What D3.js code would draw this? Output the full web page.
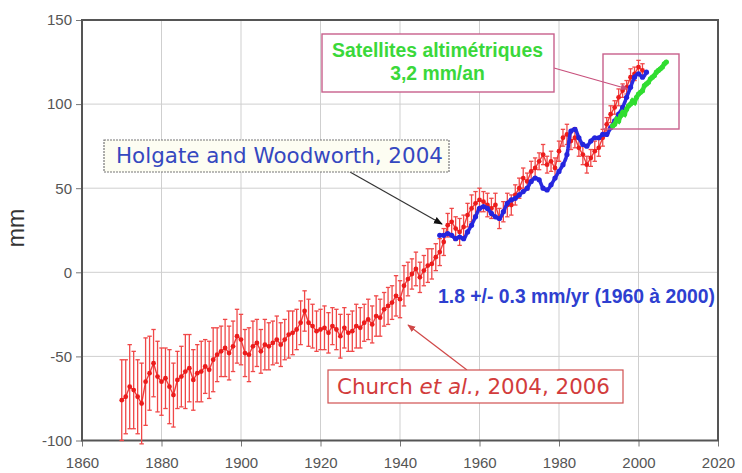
<!DOCTYPE html>
<html>
<head>
<meta charset="utf-8">
<script src="https://cdn.jsdelivr.net/npm/d3@7"></script>
<style>
  html, body { margin: 0; padding: 0; background: #fff; }
  svg { display: block; }
</style>
</head>
<body>
<svg id="chart" width="742" height="473"></svg>
<script>
// Global mean sea level reconstructions (mm)

// Church et al. (2004, 2006): yearly values 1870–2001 and their error half-widths
const churchYears = d3.range(1870, 2002);
const churchValues = [
  -76, -74, -68, -70, -74, -78, -65, -60, -54, -62,
  -65, -63, -68, -73, -64, -62, -59, -57, -64, -60,
  -59, -56, -58, -52, -49, -47, -45, -48, -44, -38,
  -40, -48, -49, -44, -42, -47, -43, -44, -42, -40,
  -43, -40, -37, -36, -34, -30, -23, -30, -32, -35,
  -34, -33, -36, -32, -34, -38, -33, -36, -35, -32,
  -33, -30, -28, -31, -26, -27, -22, -20, -18, -14,
  -16, -8, -4, -1, 2, -3, 1, 4, 5, 9,
  12, 18, 28, 30, 26, 24, 27, 34, 38, 41,
  43, 42, 40, 38, 40, 32, 36, 40, 40, 46,
  50, 56, 54, 60, 62, 66, 70, 64, 66, 62,
  72, 80, 82, 78, 80, 74, 70, 64, 68, 72,
  74, 80, 88, 94, 98, 104, 108, 110, 116, 118,
  122, 120
];
const churchErrors = [
  24, 22, 25, 23, 22, 24, 26, 22, 20, 21,
  20, 18, 22, 19, 17, 18, 22, 20, 18, 17,
  18, 16, 17, 19, 16, 15, 17, 16, 15, 16,
  15, 14, 16, 15, 14, 13, 15, 14, 13, 14,
  13, 12, 14, 13, 12, 13, 12, 14, 13, 12,
  12, 13, 12, 11, 12, 13, 12, 11, 12, 13,
  12, 11, 12, 11, 12, 11, 10, 11, 10, 12,
  11, 12, 10, 9, 10, 9, 9, 10, 9, 8,
  8, 8, 7, 8, 7, 8, 7, 7, 8, 7,
  7, 6, 7, 6, 7, 6, 6, 7, 6, 6,
  6, 6, 5, 6, 6, 5, 6, 5, 6, 6,
  6, 5, 6, 5, 6, 5, 6, 5, 5, 6,
  5, 5, 4, 5, 4, 5, 4, 4, 5, 4,
  4, 4
];

// Holgate and Woodworth (2004): yearly values 1950–2002
const holgateYears = d3.range(1950, 2003);
const holgateValues = [
  22, 22, 23, 22, 20, 21, 20, 24, 28, 33,
  38, 39, 38, 35, 33, 32, 36, 41, 43, 44,
  46, 48, 50, 54, 56, 55, 50, 49, 52, 56,
  60, 64, 70, 84, 85, 80, 76, 75, 78, 80,
  80, 82, 82, 86, 90, 94, 98, 104, 110, 116,
  118, 116, 119
];

// Satellite altimetry, half-yearly
const satYears = d3.range(1993.5, 2007.01, 0.5);
const satValues = [
  87, 88, 91, 90, 93, 95, 94, 97, 99, 100,
  102, 101, 104, 106, 107, 108, 111, 112, 113, 115,
  116, 117, 119, 120, 121, 122, 124, 125
];

// Axis ticks
const xTicks = [1860, 1880, 1900, 1920, 1940, 1960, 1980, 2000, 2020];
const yTicks = [-100, -50, 0, 50, 100, 150];

const church = churchYears.map((yr, i) => ({ yr, v: churchValues[i], e: churchErrors[i] }));
const holgate = holgateYears.map((yr, i) => ({ yr, v: holgateValues[i] }));
const sat = satYears.map((yr, i) => ({ yr, v: satValues[i] }));

const svg = d3.select("#chart");
const plot = { left: 82, right: 718, top: 20, bottom: 440.5 };

const x = d3.scaleLinear().domain([1860, 2020]).range([plot.left, plot.right]);
const y = d3.scaleLinear().domain([-100, 150]).range([plot.bottom, plot.top]);

const defs = svg.append("defs");
function arrowMarker(id, color, size) {
  defs.append("marker")
    .attr("id", id)
    .attr("viewBox", "0 0 10 10")
    .attr("refX", 9).attr("refY", 5)
    .attr("markerWidth", size).attr("markerHeight", size)
    .attr("markerUnits", "userSpaceOnUse")
    .attr("orient", "auto")
    .append("path")
    .attr("d", "M0,1 L10,5 L0,9 Z")
    .attr("fill", color);
}
arrowMarker("arrowBlack", "#111", 9);
arrowMarker("arrowRed", "#d04848", 8);
arrowMarker("arrowPink", "#c8507c", 8);

// grid
const grid = svg.append("g");
grid.selectAll("line.vx").data(xTicks.slice(1, -1)).join("line")
  .attr("x1", d => x(d)).attr("x2", d => x(d))
  .attr("y1", plot.top).attr("y2", plot.bottom)
  .attr("stroke", "#cfcfcf").attr("stroke-width", 1);
grid.selectAll("line.hy").data(yTicks.slice(1, -1)).join("line")
  .attr("x1", plot.left).attr("x2", plot.right)
  .attr("y1", d => y(d)).attr("y2", d => y(d))
  .attr("stroke", "#cfcfcf").attr("stroke-width", 1);

// axes
const xAxis = svg.append("g")
  .attr("transform", `translate(0,${plot.bottom})`)
  .call(d3.axisBottom(x).tickValues(xTicks).tickFormat(d3.format("d")).tickSize(6).tickPadding(11));
const yAxis = svg.append("g")
  .attr("transform", `translate(${plot.left},0)`)
  .call(d3.axisLeft(y).tickValues(yTicks).tickSize(6).tickPadding(4));
[xAxis, yAxis].forEach(a => {
  a.select(".domain").remove();
  a.selectAll(".tick line").attr("stroke", "#777");
  a.selectAll(".tick text")
    .attr("fill", "#555")
    .style("font-family", "'Liberation Sans', Arial, sans-serif")
    .style("font-size", "15px");
});
yAxis.selectAll(".tick text").text(d => d < 0 ? "-" + Math.abs(d) : d);

// frame
svg.append("rect")
  .attr("x", plot.left).attr("y", plot.top)
  .attr("width", plot.right - plot.left).attr("height", plot.bottom - plot.top)
  .attr("fill", "none").attr("stroke", "#555").attr("stroke-width", 2);

// y label
svg.append("text")
  .attr("transform", `translate(24,228) rotate(-90)`)
  .attr("text-anchor", "middle")
  .attr("fill", "#333")
  .style("font-family", "'Liberation Sans', Arial, sans-serif")
  .style("font-size", "23px")
  .text("mm");

// Church et al. error bars
const red = "#ec1c1c";
const eb = svg.append("g").attr("stroke", "#f04848").attr("stroke-width", 1.3);
eb.selectAll("line.bar").data(church).join("line")
  .attr("x1", d => x(d.yr)).attr("x2", d => x(d.yr))
  .attr("y1", d => y(d.v + d.e)).attr("y2", d => y(d.v - d.e));
eb.selectAll("line.capT").data(church).join("line")
  .attr("x1", d => x(d.yr) - 2.2).attr("x2", d => x(d.yr) + 2.2)
  .attr("y1", d => y(d.v + d.e)).attr("y2", d => y(d.v + d.e));
eb.selectAll("line.capB").data(church).join("line")
  .attr("x1", d => x(d.yr) - 2.2).attr("x2", d => x(d.yr) + 2.2)
  .attr("y1", d => y(d.v - d.e)).attr("y2", d => y(d.v - d.e));

const line = d3.line().x(d => x(d.yr)).y(d => y(d.v));

svg.append("path").datum(church)
  .attr("d", line).attr("fill", "none")
  .attr("stroke", red).attr("stroke-width", 1.4).attr("opacity", 0.85);
svg.append("g").selectAll("circle").data(church).join("circle")
  .attr("cx", d => x(d.yr)).attr("cy", d => y(d.v)).attr("r", 2.4)
  .attr("fill", red);

// Holgate and Woodworth
svg.append("path").datum(holgate)
  .attr("d", line.curve(d3.curveMonotoneX)).attr("fill", "none")
  .attr("stroke", "#2a2ae0").attr("stroke-width", 3.6)
  .attr("stroke-linecap", "round").attr("stroke-linejoin", "round")
  .attr("stroke-dasharray", "3,1.5");
line.curve(d3.curveLinear);
svg.append("g").selectAll("circle").data(holgate).join("circle")
  .attr("cx", d => x(d.yr)).attr("cy", d => y(d.v)).attr("r", 2.6)
  .attr("fill", "#2424dd");

// satellite altimetry
svg.append("path").datum(sat)
  .attr("d", line).attr("fill", "none")
  .attr("stroke", "#3ce03c").attr("stroke-width", 4.5)
  .attr("stroke-linecap", "round");
svg.append("g").selectAll("circle").data(sat).join("circle")
  .attr("cx", d => x(d.yr)).attr("cy", d => y(d.v)).attr("r", 2.6)
  .attr("fill", "#30dd30");

// text fitted to a given width
function fitText(sel, width) {
  const w = sel.node().getComputedTextLength();
  const fs = parseFloat(sel.style("font-size"));
  sel.style("font-size", (fs * width / w).toFixed(2) + "px");
  return sel;
}

// --- annotations ---
// Holgate label
svg.append("line")
  .attr("x1", 350).attr("y1", 172).attr("x2", 442).attr("y2", 224)
  .attr("stroke", "#333").attr("stroke-width", 1.2)
  .attr("marker-end", "url(#arrowBlack)");
svg.append("rect")
  .attr("x", 104).attr("y", 140).attr("width", 345).attr("height", 32)
  .attr("fill", "#fdfdf2").attr("stroke", "#777").attr("stroke-width", 1.2)
  .attr("stroke-dasharray", "2,1");
fitText(svg.append("text")
  .attr("x", 116).attr("y", 163)
  .attr("fill", "#3548c0")
  .style("font-family", "'DejaVu Sans', Verdana, sans-serif")
  .style("font-size", "17px")
  .text("Holgate and Woodworth, 2004"), 327);

// satellite label
svg.append("line")
  .attr("x1", 554).attr("y1", 68).attr("x2", 628).attr("y2", 89)
  .attr("stroke", "#c8507c").attr("stroke-width", 1.2)
  .attr("marker-end", "url(#arrowPink)");
svg.append("rect")
  .attr("x", 322).attr("y", 34).attr("width", 232).attr("height", 58)
  .attr("fill", "#fff").attr("stroke", "#c8608c").attr("stroke-width", 1.4);
svg.append("rect")
  .attr("x", 603).attr("y", 54).attr("width", 76).attr("height", 75)
  .attr("fill", "none").attr("stroke", "#c8608c").attr("stroke-width", 1.4);
const sat1 = fitText(svg.append("text")
  .attr("x", 437.5).attr("y", 57).attr("text-anchor", "middle")
  .attr("fill", "#3ad83a")
  .style("font-family", "'Liberation Sans', Arial, sans-serif")
  .style("font-weight", "bold").style("font-size", "15px")
  .text("Satellites altimétriques"), 211);
svg.append("text")
  .attr("x", 437.5).attr("y", 80).attr("text-anchor", "middle")
  .attr("fill", "#3ad83a")
  .style("font-family", "'Liberation Sans', Arial, sans-serif")
  .style("font-weight", "bold").style("font-size", sat1.style("font-size"))
  .text("3,2 mm/an");

// trend label
fitText(svg.append("text")
  .attr("x", 438).attr("y", 303)
  .attr("fill", "#2e3fd0")
  .style("font-family", "'Liberation Sans', Arial, sans-serif")
  .style("font-weight", "bold").style("font-size", "15px")
  .text("1.8 +/- 0.3 mm/yr (1960 à 2000)"), 277);

// Church label
svg.append("line")
  .attr("x1", 467).attr("y1", 370).attr("x2", 408).attr("y2", 325)
  .attr("stroke", "#d04848").attr("stroke-width", 1.2)
  .attr("marker-end", "url(#arrowRed)");
svg.append("rect")
  .attr("x", 328).attr("y", 370).attr("width", 295).attr("height", 33)
  .attr("fill", "#fff").attr("stroke", "#d05050").attr("stroke-width", 1.2);
const ct = svg.append("text")
  .attr("x", 337).attr("y", 394)
  .attr("fill", "#d23c3c")
  .style("font-family", "'DejaVu Sans', Verdana, sans-serif")
  .style("font-size", "17px");
ct.append("tspan").text("Church ");
ct.append("tspan").style("font-style", "italic").text("et al.");
ct.append("tspan").text(", 2004, 2006");
fitText(ct, 273);
</script>
</body>
</html>
